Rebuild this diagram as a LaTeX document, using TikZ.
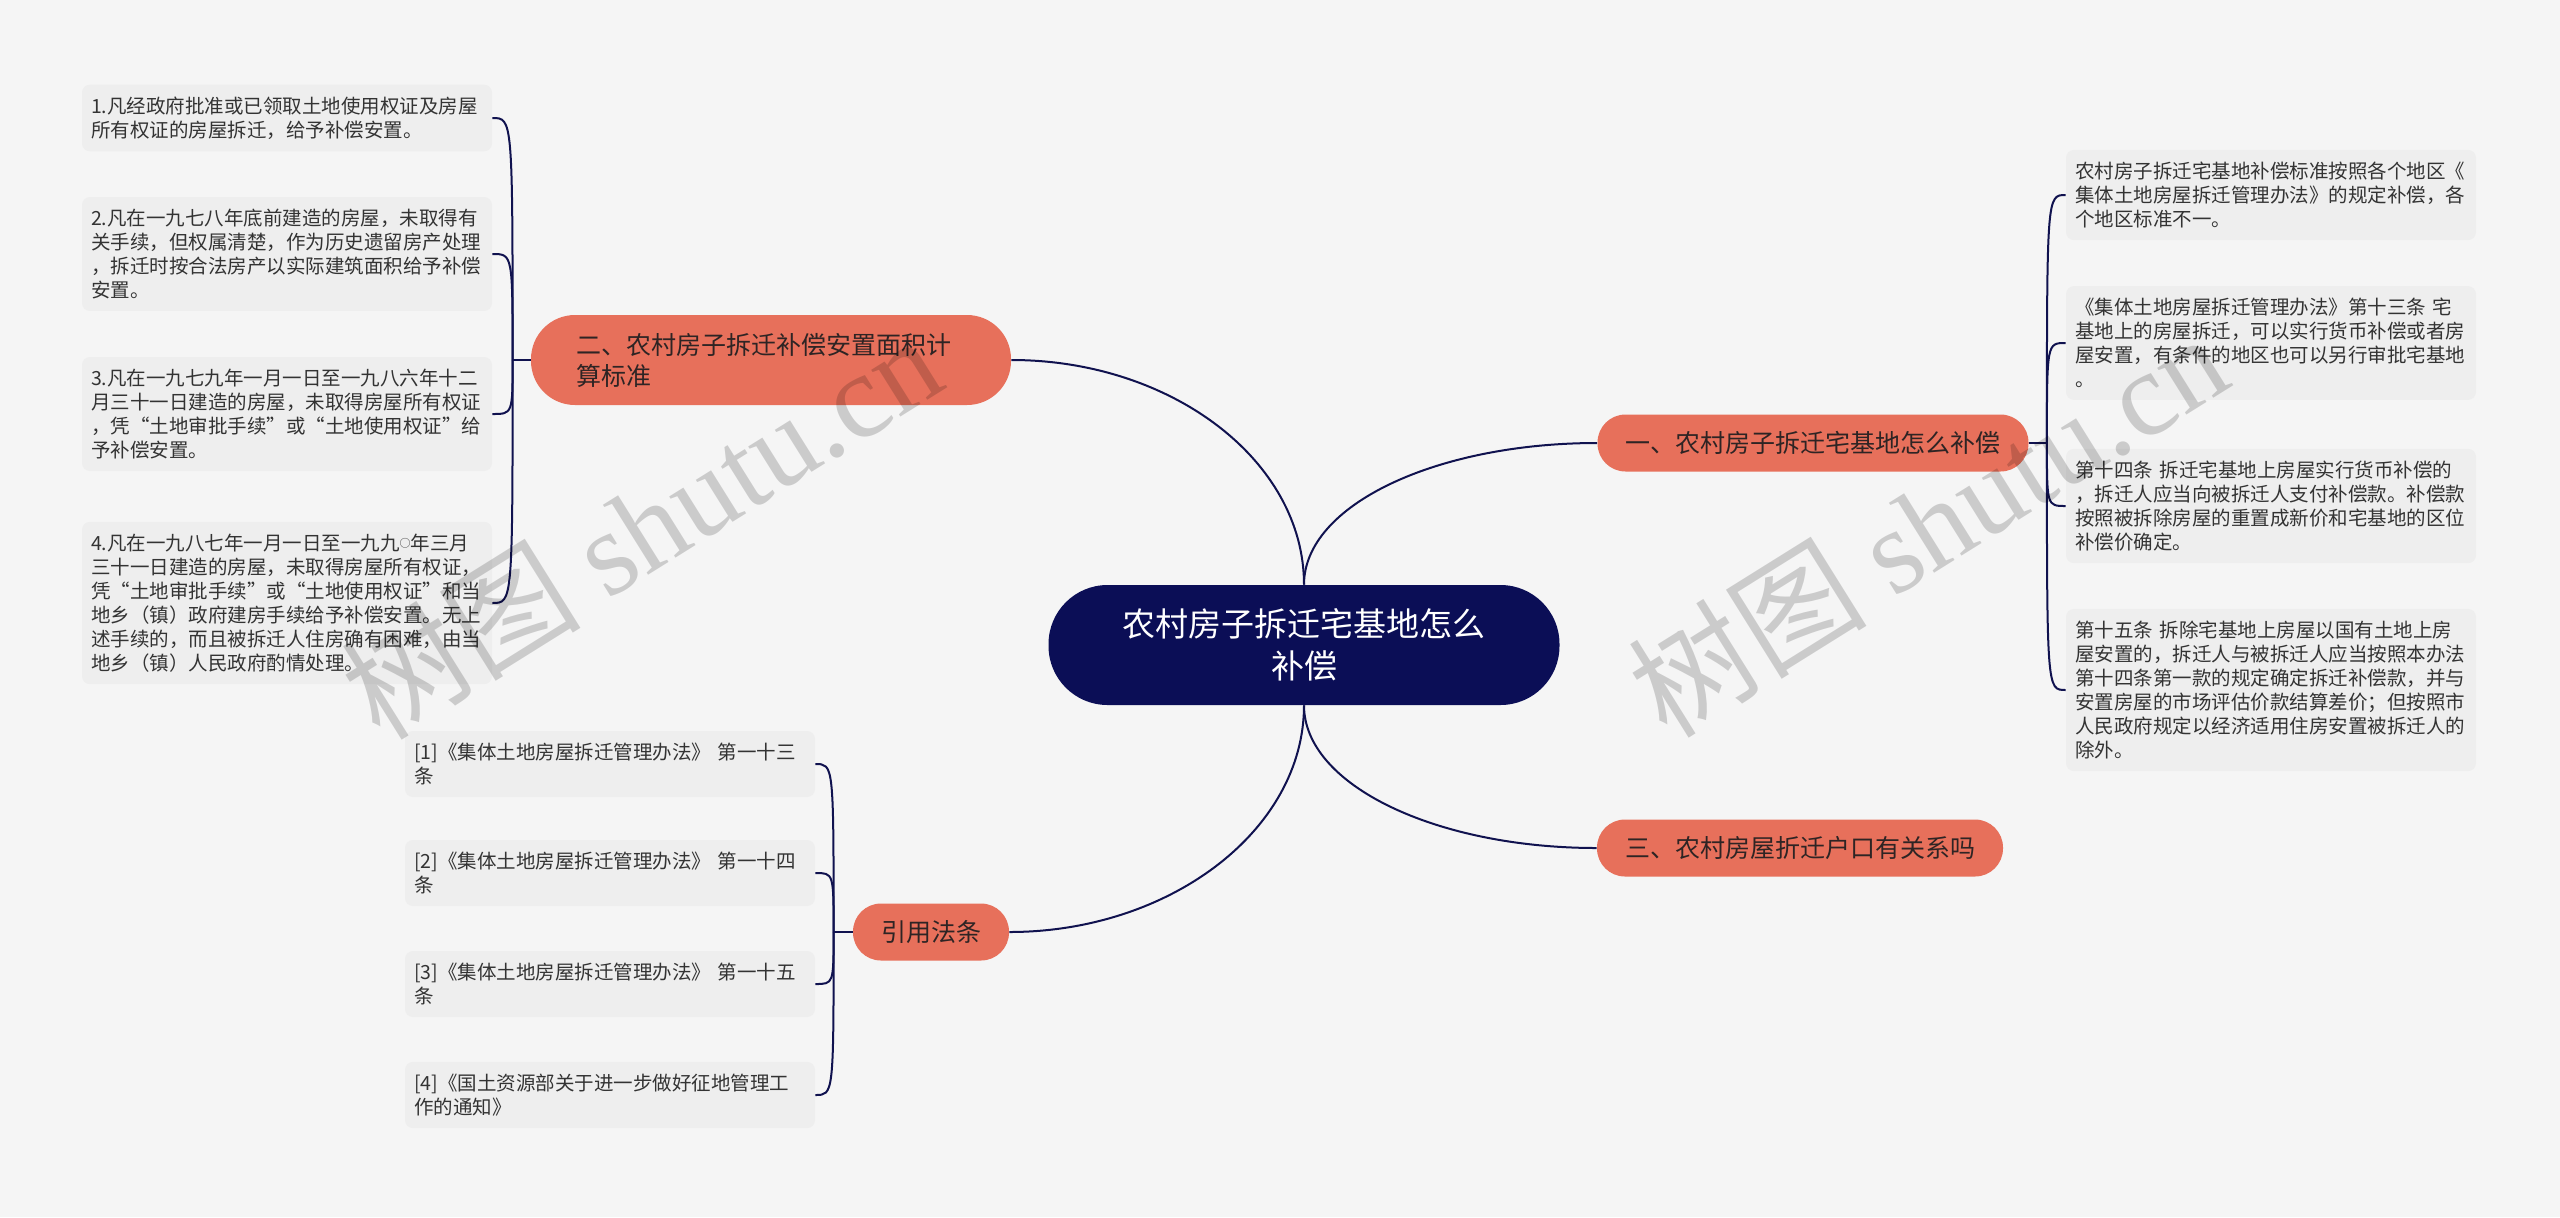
\documentclass[tikz,border=0pt]{standalone}
\usepackage{fontspec}
\setmainfont{Noto Sans CJK SC}
\newfontfamily\wmlatin{Liberation Serif}
\usetikzlibrary{calc}
\definecolor{MapBg}{HTML}{F5F5F5}
\definecolor{MapNavy}{HTML}{0B0E56}
\definecolor{MapLine}{HTML}{10124F}
\definecolor{MapCoral}{HTML}{E7705B}
\definecolor{MapInk}{HTML}{2E2424}
\definecolor{LeafFill}{HTML}{EEEEEE}
\definecolor{LeafInk}{HTML}{333333}
\tikzset{
  rootnode/.style={rounded corners=29.5pt, fill=MapNavy, text=white,
    font=\fontsize{16.5}{21}\selectfont, align=center,
    minimum width=255.5pt, minimum height=60pt},
  topic/.style={rounded corners=14pt, fill=MapCoral, text=MapInk,
    font=\fontsize{12.5}{15.5}\selectfont, inner xsep=14pt,
    minimum height=28.5pt},
  leaf/.style={rounded corners=4pt, fill=LeafFill, text=LeafInk,
    font=\fontsize{9.75}{12}\selectfont, text width=196pt, align=left,
    inner xsep=4.5pt, inner ysep=6pt},
  maplink/.style={draw=MapLine, line width=1pt},
  watermark/.style={text=black, opacity=0.17, rotate=32,
    font=\fontsize{60}{60}\selectfont}
}
\newcommand{\hublink}[2]{\draw[maplink] (#1) .. controls (#1 |- #2) .. (#2);}
\newcommand{\smallring}{\raisebox{1.6pt}{\fontsize{5.5}{5.5}\selectfont ○}}

\begin{document}
\begin{tikzpicture}[x=0.5pt, y=-0.5pt]
  \fill[MapBg] (0,0) rectangle (2560,1217);

  % centre and main topics
  \node[rootnode] (root) at (1304,645) {农村房子拆迁宅基地怎么\\补偿};
  \node[topic] (yi) at (1813,443) {一、农村房子拆迁宅基地怎么补偿};
  \node[topic, rounded corners=22pt, text width=195pt, align=left,
    inner xsep=22.5pt, minimum height=45pt] (er) at (771,360)
    {二、农村房子拆迁补偿安置面积计\\算标准};
  \node[topic] (san) at (1800,848) {三、农村房屋折迁户口有关系吗};
  \node[topic] (cite) at (931,932) {引用法条};

  \draw[maplink] (root.north) .. controls +(0,-124) and +(160,0) .. (er.east);
  \draw[maplink] (root.north) .. controls +(0,-80) and +(-160,0) .. (yi.west);
  \draw[maplink] (root.south) .. controls +(0,125) and +(160,0) .. (cite.east);
  \draw[maplink] (root.south) .. controls +(0,80) and +(-160,0) .. (san.west);

  % left: 二
  \node[leaf] (er1) at (287,118) {1.凡经政府批准或已领取土地使用权证及房屋\\所有权证的房屋拆迁，给予补偿安置。};
  \node[leaf] (er2) at (287,254) {2.凡在一九七八年底前建造的房屋，未取得有\\关手续，但权属清楚，作为历史遗留房产处理\\，拆迁时按合法房产以实际建筑面积给予补偿\\安置。};
  \node[leaf] (er3) at (287,414) {3.凡在一九七九年一月一日至一九八六年十二\\月三十一日建造的房屋，未取得房屋所有权证\\，凭“土地审批手续”或“土地使用权证”给\\予补偿安置。};
  \node[leaf] (er4) at (287,603) {4.凡在一九八七年一月一日至一九九\smallring 年三月\\三十一日建造的房屋，未取得房屋所有权证，\\凭“土地审批手续”或“土地使用权证”和当\\地乡（镇）政府建房手续给予补偿安置。无上\\述手续的，而且被拆迁人住房确有困难，由当\\地乡（镇）人民政府酌情处理。};

  % right: 一
  \node[leaf] (yi1) at (2271,195) {农村房子拆迁宅基地补偿标准按照各个地区《\\集体土地房屋拆迁管理办法》的规定补偿，各\\个地区标准不一。};
  \node[leaf] (yi2) at (2271,343) {《集体土地房屋拆迁管理办法》第十三条~宅\\基地上的房屋拆迁，可以实行货币补偿或者房\\屋安置，有条件的地区也可以另行审批宅基地\\。};
  \node[leaf] (yi3) at (2271,506) {第十四条~拆迁宅基地上房屋实行货币补偿的\\，拆迁人应当向被拆迁人支付补偿款。补偿款\\按照被拆除房屋的重置成新价和宅基地的区位\\补偿价确定。};
  \node[leaf] (yi4) at (2271,690) {第十五条~拆除宅基地上房屋以国有土地上房\\屋安置的，拆迁人与被拆迁人应当按照本办法\\第十四条第一款的规定确定拆迁补偿款，并与\\安置房屋的市场评估价款结算差价；但按照市\\人民政府规定以经济适用住房安置被拆迁人的\\除外。};

  % bottom left: 引用法条
  \node[leaf] (cite1) at (610,764) {[1]《集体土地房屋拆迁管理办法》~第一十三\\条};
  \node[leaf] (cite2) at (610,873) {[2]《集体土地房屋拆迁管理办法》~第一十四\\条};
  \node[leaf] (cite3) at (610,984) {[3]《集体土地房屋拆迁管理办法》~第一十五\\条};
  \node[leaf] (cite4) at (610,1095) {[4]《国土资源部关于进一步做好征地管理工\\作的通知》};

  \coordinate (erhub) at ([xshift=-9pt]er.west);
  \coordinate (yihub) at ([xshift=9pt]yi.east);
  \coordinate (citehub) at ([xshift=-9.5pt]cite.west);
  \draw[maplink] (er.west) -- (erhub);
  \draw[maplink] (yi.east) -- (yihub);
  \draw[maplink] (cite.west) -- (citehub);
  \foreach \n in {er1,er2,er3,er4} {\hublink{erhub}{\n.east}}
  \foreach \n in {yi1,yi2,yi3,yi4} {\hublink{yihub}{\n.west}}
  \foreach \n in {cite1,cite2,cite3,cite4} {\hublink{citehub}{\n.east}}

  % watermarks
  \node[watermark] (wmleft) at (641,526) {树图 {\wmlatin shutu.cn}};
  \node[watermark] (wmright) at (1927,524) {树图 {\wmlatin shutu.cn}};
\end{tikzpicture}
\end{document}
